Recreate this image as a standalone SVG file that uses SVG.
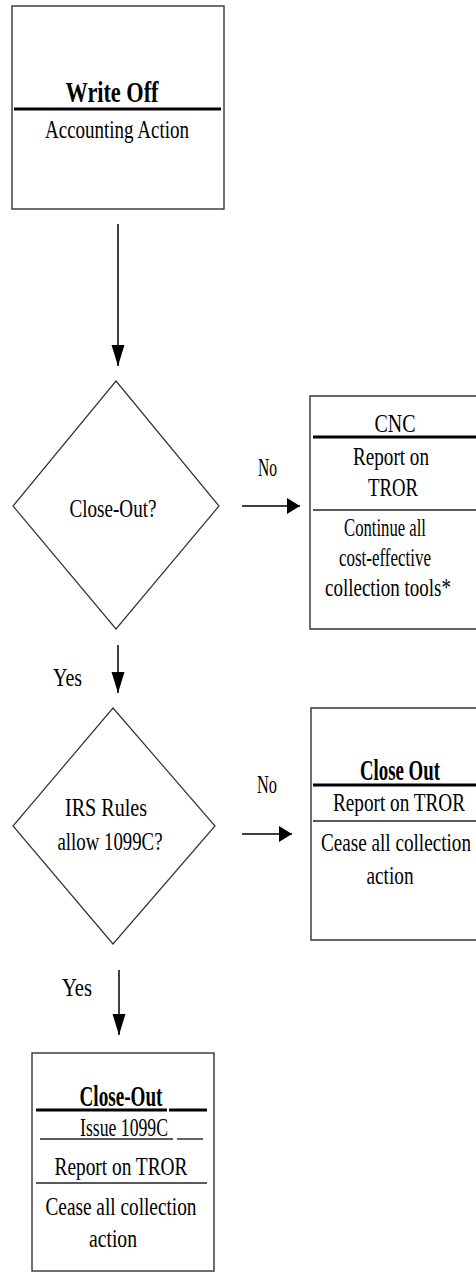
<svg xmlns="http://www.w3.org/2000/svg" width="476" height="1279" viewBox="0 0 476 1279">
<style>
.bx{fill:#fff;stroke:#333;stroke-width:1.4}
.dm{fill:#fff;stroke:#333;stroke-width:1.2}
.thk{stroke:#000;stroke-width:3}
.thn{stroke:#222;stroke-width:1.4}
.ln{stroke:#000;stroke-width:1.5;fill:none}
.t{font-family:"Liberation Serif","Times New Roman",serif;font-size:25px;fill:#000;text-anchor:middle}
.b{font-weight:bold;font-size:29px}
.q{font-size:26px}
.l{text-anchor:start}
</style>
<defs>
<marker id="arrV" markerUnits="userSpaceOnUse" markerWidth="21" markerHeight="14" refX="21" refY="7" orient="auto"><path d="M0,0.5 L21,7 L0,13.5 Z" fill="#000"/></marker>
<marker id="arrH" markerUnits="userSpaceOnUse" markerWidth="13" markerHeight="17" refX="13" refY="8.5" orient="auto"><path d="M0,0.5 L13,8.5 L0,16.5 Z" fill="#000"/></marker>
</defs>
<rect width="476" height="1279" fill="#fff"/>
<g id="connectors">
<line class="ln" x1="118" y1="224" x2="118" y2="366" marker-end="url(#arrV)"/>
<line class="ln" x1="242" y1="506" x2="300" y2="506" marker-end="url(#arrH)"/>
<text class="t q l" x="258" y="476" textLength="19" lengthAdjust="spacingAndGlyphs">No</text>
<line class="ln" x1="118" y1="645" x2="118" y2="693" marker-end="url(#arrV)"/>
<text class="t q l" x="53" y="686" textLength="29" lengthAdjust="spacingAndGlyphs">Yes</text>
<line class="ln" x1="242" y1="834" x2="292" y2="834" marker-end="url(#arrH)"/>
<text class="t q l" x="257" y="793" textLength="20" lengthAdjust="spacingAndGlyphs">No</text>
<line class="ln" x1="119" y1="970" x2="119" y2="1035" marker-end="url(#arrV)"/>
<text class="t q l" x="62" y="996" textLength="30" lengthAdjust="spacingAndGlyphs">Yes</text>
</g>
<g id="writeoff">
<rect class="bx" x="12" y="6" width="212" height="203"/>
<text class="t b" x="112" y="102" textLength="93" lengthAdjust="spacingAndGlyphs">Write Off</text>
<line class="thk" x1="14" y1="109" x2="221" y2="109"/>
<text class="t" x="117" y="138" textLength="144" lengthAdjust="spacingAndGlyphs">Accounting Action</text>
</g>
<g id="closeout-q">
<polygon class="dm" points="116,381 219,506 116,629 13,506"/>
<text class="t q" x="113" y="517" textLength="87" lengthAdjust="spacingAndGlyphs">Close-Out?</text>
</g>
<g id="cnc">
<path class="bx" d="M476,396 H310 V629 H476"/>
<text class="t" x="395" y="432" textLength="41" lengthAdjust="spacingAndGlyphs">CNC</text>
<line class="thk" x1="313" y1="437" x2="476" y2="437"/>
<text class="t" x="391" y="465" textLength="76" lengthAdjust="spacingAndGlyphs">Report on</text>
<text class="t" x="393" y="496" textLength="50" lengthAdjust="spacingAndGlyphs">TROR</text>
<line class="thn" x1="313" y1="510" x2="476" y2="510"/>
<text class="t" x="385" y="536" textLength="82" lengthAdjust="spacingAndGlyphs">Continue all</text>
<text class="t" x="385" y="566" textLength="92" lengthAdjust="spacingAndGlyphs">cost-effective</text>
<text class="t" x="388" y="596" textLength="126" lengthAdjust="spacingAndGlyphs">collection tools*</text>
</g>
<g id="irs-q">
<polygon class="dm" points="113,708 215,826 113,944 13,826"/>
<text class="t q" x="106" y="816" textLength="82" lengthAdjust="spacingAndGlyphs">IRS Rules</text>
<text class="t q" x="110" y="850" textLength="105" lengthAdjust="spacingAndGlyphs">allow 1099C?</text>
</g>
<g id="closeout-box">
<path class="bx" d="M476,708 H311 V940 H476"/>
<text class="t b" x="400" y="780" textLength="80" lengthAdjust="spacingAndGlyphs">Close Out</text>
<line class="thk" x1="313" y1="785" x2="476" y2="785"/>
<text class="t" x="399" y="811" textLength="132" lengthAdjust="spacingAndGlyphs">Report on TROR</text>
<line class="thn" x1="313" y1="821" x2="476" y2="821"/>
<text class="t" x="396" y="851" textLength="150" lengthAdjust="spacingAndGlyphs">Cease all collection</text>
<text class="t" x="390" y="884" textLength="47" lengthAdjust="spacingAndGlyphs">action</text>
</g>
<g id="closeout-1099c">
<rect class="bx" x="32" y="1053" width="182" height="218"/>
<text class="t b" x="121" y="1106" textLength="83" lengthAdjust="spacingAndGlyphs">Close-Out</text>
<line class="thk" x1="36" y1="1110" x2="167" y2="1110"/>
<line class="thk" x1="169" y1="1110" x2="207" y2="1110"/>
<text class="t" x="124" y="1136" textLength="88" lengthAdjust="spacingAndGlyphs">Issue 1099C</text>
<line class="thn" x1="40" y1="1139" x2="173" y2="1139"/>
<line class="thn" x1="177" y1="1139" x2="203" y2="1139"/>
<text class="t" x="121" y="1175" textLength="133" lengthAdjust="spacingAndGlyphs">Report on TROR</text>
<line class="thn" x1="36" y1="1183" x2="207" y2="1183"/>
<text class="t" x="121" y="1215" textLength="151" lengthAdjust="spacingAndGlyphs">Cease all collection</text>
<text class="t" x="113" y="1247" textLength="48" lengthAdjust="spacingAndGlyphs">action</text>
</g>
</svg>
